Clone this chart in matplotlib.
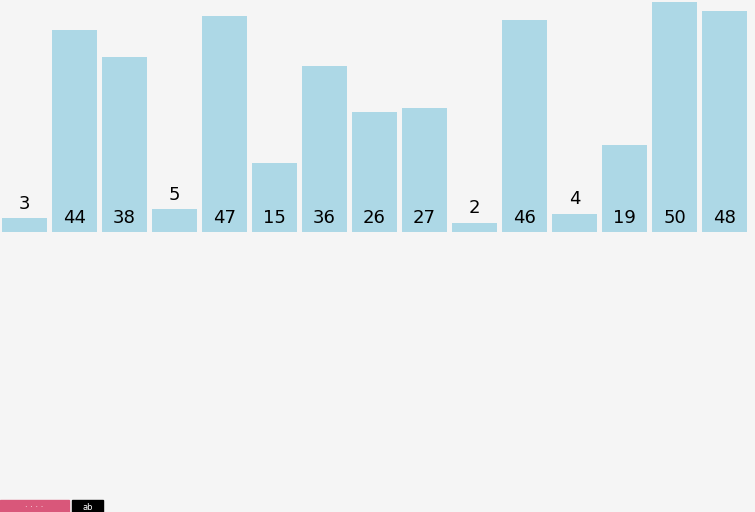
import matplotlib
matplotlib.use("Agg")
import matplotlib.pyplot as plt
from matplotlib.patches import Rectangle

values = [3, 44, 38, 5, 47, 15, 36, 26, 27, 2, 46, 4, 19, 50, 48]
labels = [str(v) for v in values]

W, H = 755, 512
fig = plt.figure(figsize=(W / 100, H / 100), dpi=100)
fig.patch.set_facecolor("#f5f5f5")
ax = fig.add_axes([0, 0, 1, 1])
ax.set_facecolor("#f5f5f5")
ppu = 4.6  # px per value unit
ax.set_xlim(0, W / 50)
ax.set_ylim(-(H - 232) / ppu, 232 / ppu)
ax.axis("off")

xs = [i + 0.04 for i in range(len(values))]
ax.bar(xs, values, width=0.9, align="edge", color="#add8e6", linewidth=0)
off = 15 / ppu
for x, v, lab in zip(xs, values, labels):
    if v * ppu < 40:
        y = v + off
    else:
        y = off
    ax.text(x + 0.45, y - 0.15, lab, ha="center", va="center", fontsize=13,
            family="DejaVu Sans", color="black")

# cut-off buttons at the bottom-left
def px_rect(x0, y0, w, h, color):
    fig.patches.append(Rectangle((x0 / W, 1 - (y0 + h) / H), w / W, h / H,
                                 transform=fig.transFigure, color=color, zorder=3))

px_rect(0, 500, 69, 14, "#d9577a")
px_rect(72, 500, 31, 14, "#000000")
fig.text(34 / W, 1 - 507 / H, "· · · ·", color="white", ha="center", va="center",
         fontsize=6, zorder=4)
fig.text(88 / W, 1 - 507 / H, "ab", color="white", ha="center", va="center",
         fontsize=6, zorder=4)

fig.savefig("out.png", dpi=100, facecolor=fig.get_facecolor())
